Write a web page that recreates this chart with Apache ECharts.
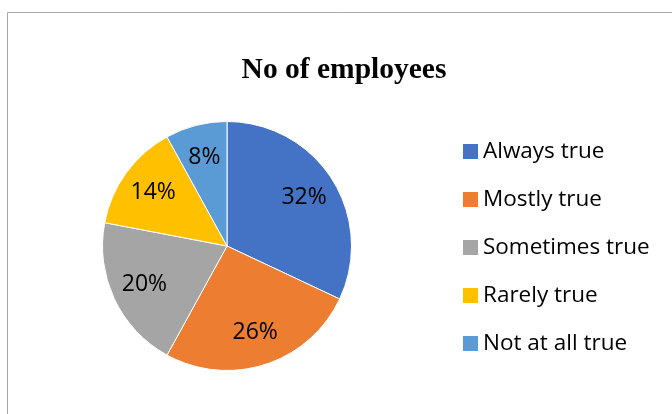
<!DOCTYPE html>
<html>
<head>
<meta charset="utf-8">
<script src="https://cdn.jsdelivr.net/npm/echarts@6/dist/echarts.min.js"></script>
<style>
  html, body { margin: 0; padding: 0; background: #fff; }
  #chart { width: 672px; height: 414px; }
</style>
</head>
<body>
<div id="chart"></div>
<script>
// Survey responses: share of employees per answer
const titleText = 'No of employees';
const categories = ['Always true', 'Mostly true', 'Sometimes true', 'Rarely true', 'Not at all true'];
const shares = [32, 26, 20, 14, 8];
const sliceColors = ['#4472C4', '#ED7D31', '#A5A5A5', '#FFC000', '#5B9BD5'];

const pieData = categories.map((name, i) => ({
  name: name,
  value: shares[i],
  itemStyle: { color: sliceColors[i] }
}));

const center = [227, 246];
const outerR = 124.5;

const chart = echarts.init(document.getElementById('chart'), null, { renderer: 'canvas' });
chart.setOption({
  animation: false,
  backgroundColor: '#fff',
  color: sliceColors,
  title: {
    text: titleText,
    left: 339,
    textAlign: 'center',
    top: 50,
    textStyle: {
      fontFamily: '"Liberation Serif", "Times New Roman", serif',
      fontWeight: 'bold',
      fontSize: 29.5,
      color: '#000'
    }
  },
  legend: {
    orient: 'vertical',
    left: 458,
    top: 135,
    itemWidth: 15,
    itemHeight: 15,
    itemGap: 25,
    icon: 'rect',
    itemStyle: { borderWidth: 0 },
    data: categories,
    textStyle: {
      fontFamily: '"Open Sans", sans-serif',
      fontSize: 22.5,
      lineHeight: 23,
      color: '#000'
    }
  },
  graphic: [{
    type: 'rect',
    silent: true,
    shape: { x: 7.5, y: 12.5, width: 700, height: 500 },
    style: { fill: 'none', stroke: '#a6a6a6', lineWidth: 1 }
  }],
  series: [
    {
      // filled slices
      type: 'pie',
      center: center,
      radius: [0, outerR],
      startAngle: 90,
      clockwise: true,
      label: { show: false },
      labelLine: { show: false },
      itemStyle: { borderColor: '#fff', borderWidth: 1 },
      data: pieData
    },
    {
      // percentage labels placed further out along each slice
      type: 'pie',
      silent: true,
      center: center,
      radius: [52, outerR],
      startAngle: 90,
      clockwise: true,
      itemStyle: { color: 'rgba(0,0,0,0)', borderWidth: 0 },
      label: {
        show: true,
        position: 'inside',
        formatter: '{c}%',
        fontFamily: '"Open Sans", sans-serif',
        fontSize: 23,
        color: '#000'
      },
      labelLine: { show: false },
      data: pieData.map(d => ({ name: d.name, value: d.value }))
    }
  ]
});
</script>
</body>
</html>
